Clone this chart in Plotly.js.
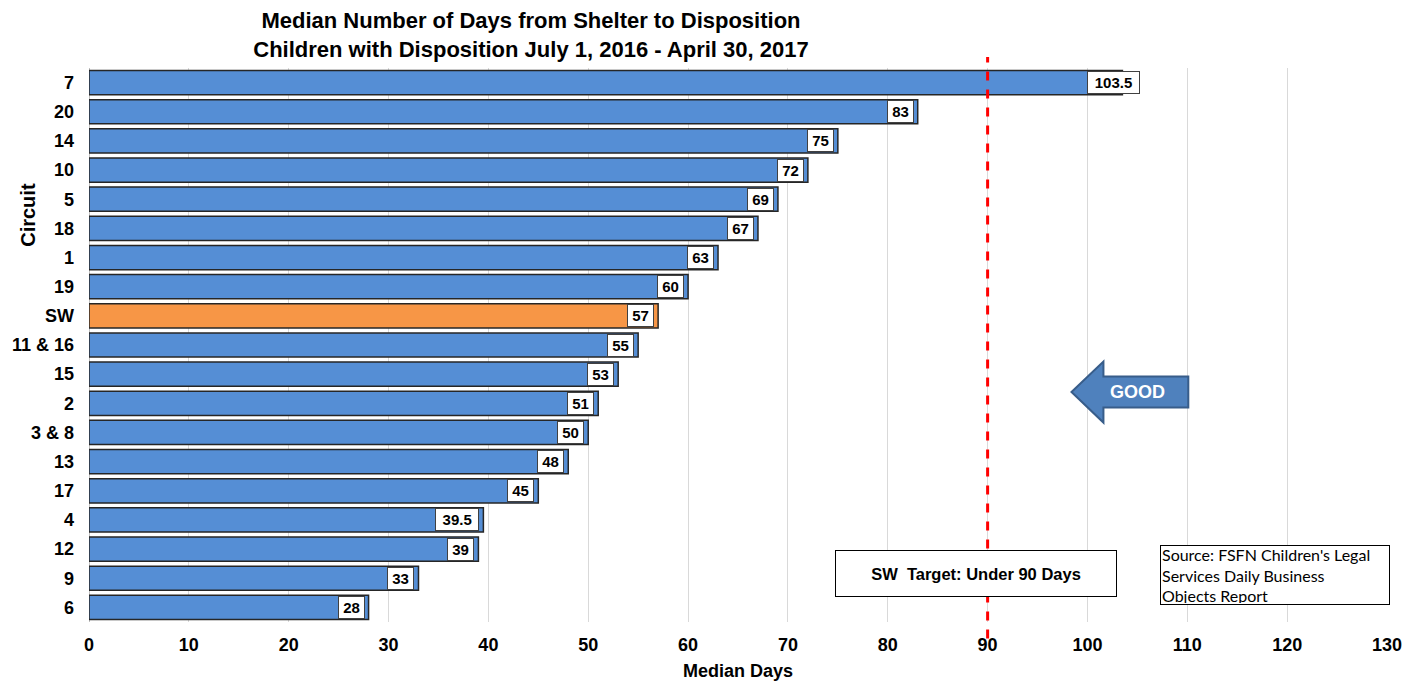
<!DOCTYPE html>
<html>
<head>
<meta charset="utf-8">
<script src="https://cdn.plot.ly/plotly-3.0.1.min.js"></script>
<style>html,body{margin:0;padding:0;background:#fff;}#chart{width:1419px;height:684px;}</style>
</head>
<body>
<div id="chart"></div>
<script>
const circuits = ["7","20","14","10","5","18","1","19","SW","11 & 16","15","2","3 & 8","13","17","4","12","9","6"];
const medianDays = [103.5,83,75,72,69,67,63,60,57,55,53,51,50,48,45,39.5,39,33,28];
const labels = ["103.5","83","75","72","69","67","63","60","57","55","53","51","50","48","45","39.5","39","33","28"];
const xTicks = [0,10,20,30,40,50,60,70,80,90,100,110,120,130];
const targetDays = 90;

const blue = "#558ED5", orange = "#F79646";
const colors = circuits.map(c => c === "SW" ? orange : blue);
const maxVal = Math.max(...medianDays);
const FONT = "Liberation Sans, Arial, sans-serif";

const trace = {
  type: "bar",
  orientation: "h",
  x: medianDays,
  y: circuits,
  marker: {color: colors, line: {color: "#262626", width: 1.5}},
  hoverinfo: "x+y",
  showlegend: false
};

const annotations = medianDays.map((v, i) => {
  const top = v === maxVal;
  return {
    x: v, y: i, xref: "x", yref: "y",
    text: "<b>" + labels[i] + "</b>",
    showarrow: false,
    xanchor: "right",
    xshift: top ? 18 : -4,
    bgcolor: "#ffffff",
    bordercolor: "#404040",
    borderwidth: 1,
    borderpad: 2,
    width: labels[i].length * 8.6 + 4,
    height: 17,
    font: {family: FONT, size: 15, color: "#000"}
  };
});

annotations.push({
  x: 88.85, y: 0.087, xref: "x", yref: "paper",
  text: "<b>SW  Target: Under 90 Days</b>",
  showarrow: false, xanchor: "center", yanchor: "middle",
  width: 278, height: 43,
  bgcolor: "#ffffff", bordercolor: "#000", borderwidth: 1,
  font: {family: FONT, size: 16.5, color: "#000"}
});
annotations.push({
  x: 118.75, y: 0.085, xref: "x", yref: "paper",
  text: "Source: FSFN Children's Legal<br>Services Daily Business<br>Objects Report",
  showarrow: false, xanchor: "center", yanchor: "middle", align: "left",
  width: 226, height: 56,
  bgcolor: "#ffffff", bordercolor: "#000", borderwidth: 1,
  font: {family: "Lato, Open Sans, sans-serif", size: 16, color: "#000"}
});
annotations.push({
  x: 105.0, y: 0.415, xref: "x", yref: "paper",
  text: "<b>GOOD</b>", showarrow: false,
  font: {family: FONT, size: 18, color: "#ffffff"}
});
annotations.push({
  x: -0.047, y: 0.735, xref: "paper", yref: "paper",
  xanchor: "center", yanchor: "middle",
  text: "<b>Circuit</b>", showarrow: false, textangle: -90,
  font: {family: FONT, size: 20, color: "#000"}
});

const shapes = [
  {type: "line", xref: "x", yref: "paper", x0: targetDays, x1: targetDays, y0: -0.03, y1: 1.02,
   line: {color: "#FF0000", width: 3, dash: "dash"}},
  {type: "path", xref: "x", yref: "paper",
   path: "M 98.4 0.415 L 101.6 0.470 L 101.6 0.443 L 110.1 0.443 L 110.1 0.387 L 101.6 0.387 L 101.6 0.360 Z",
   fillcolor: "#4F81BD", line: {color: "#385D8A", width: 2}}
];

const layout = {
  width: 1419, height: 684,
  margin: {l: 89, r: 32, t: 68, b: 62},
  paper_bgcolor: "#fff", plot_bgcolor: "#fff",
  bargap: 0.17,
  title: {
    text: "<b>Median Number of Days from Shelter to Disposition<br>Children with Disposition July 1, 2016 - April 30, 2017</b>",
    x: 531/1419, xref: "container", xanchor: "center",
    y: 1 - 28/684, yref: "container", yanchor: "middle",
    font: {family: FONT, size: 22, color: "#000"}
  },
  xaxis: {
    range: [0, 130], tickvals: xTicks, ticktext: xTicks.map(String),
    showgrid: true, gridcolor: "#D9D9D9", gridwidth: 1,
    zeroline: true, zerolinecolor: "#BFBFBF",
    ticks: "", ticklabelstandoff: 10,
    tickfont: {family: FONT, size: 18, color: "#000", weight: "bold"},
    title: {text: "<b>Median Days</b>", font: {family: FONT, size: 18, color: "#000"}, standoff: 10},
    fixedrange: true
  },
  yaxis: {
    type: "category", categoryorder: "array", categoryarray: circuits,
    autorange: "reversed",
    ticks: "", ticklabelstandoff: 14,
    tickfont: {family: FONT, size: 18, color: "#000", weight: "bold"},
    showgrid: false, fixedrange: true
  },
  annotations: annotations,
  shapes: shapes
};

Plotly.newPlot("chart", [trace], layout, {displayModeBar: false, staticPlot: true});
</script>
</body>
</html>
